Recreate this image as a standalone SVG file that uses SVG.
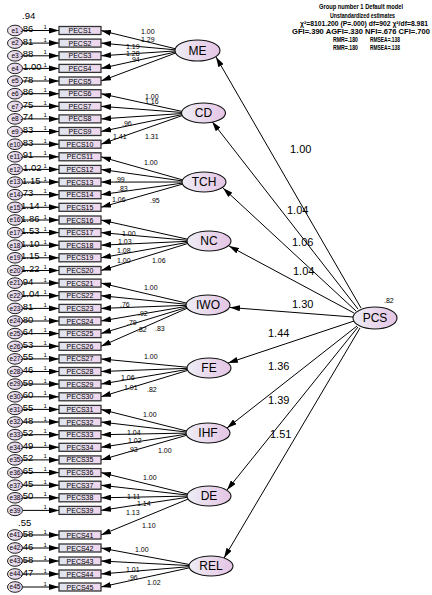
<svg xmlns="http://www.w3.org/2000/svg" width="432" height="595" viewBox="0 0 432 595">
<defs>
<linearGradient id="gBox" x1="0" x2="1" y1="0" y2="0"><stop offset="0" stop-color="#dfe5ee"/><stop offset="1" stop-color="#efd6ee"/></linearGradient>
<linearGradient id="gLat" x1="0" x2="1" y1="0" y2="0"><stop offset="0" stop-color="#eeedf5"/><stop offset="1" stop-color="#e4c4e4"/></linearGradient>
<linearGradient id="gErr" x1="0" x2="1" y1="0" y2="0"><stop offset="0" stop-color="#ebe6f2"/><stop offset="1" stop-color="#e2cce6"/></linearGradient>
<marker id="ah" markerWidth="10" markerHeight="6" refX="10" refY="3" orient="auto" markerUnits="userSpaceOnUse"><path d="M0,0 L10,3 L0,6 z" fill="#000"/></marker>
<style>
text{font-family:"Liberation Sans",Arial,sans-serif;fill:#000}
.box{fill:url(#gBox);stroke:#333;stroke-width:1.3}
.bt{font-size:7px;text-anchor:middle}
.err{fill:url(#gErr);stroke:#222;stroke-width:1}
.et{font-size:6.5px;text-anchor:middle}
.lat{fill:url(#gLat);stroke:#111;stroke-width:1.1}
.lt{font-size:12px;text-anchor:middle}
.c line{stroke:#000;stroke-width:1;marker-end:url(#ah)}
.v{font-size:9.5px}
.one{font-size:6px}
.ld{font-size:7px}
.pl{font-size:11px}
.hd{font-size:6.5px;font-weight:bold}
</style>
</defs>
<rect width="432" height="595" fill="#fff"/>

<g id="connectors" class="c">
<!-- error -> indicator -->
<line x1="22.5" y1="30.5" x2="59" y2="30.5"/>
<line x1="22.5" y1="43.1" x2="59" y2="43.1"/>
<line x1="22.5" y1="55.8" x2="59" y2="55.8"/>
<line x1="22.5" y1="68.4" x2="59" y2="68.4"/>
<line x1="22.5" y1="81" x2="59" y2="81"/>
<line x1="22.5" y1="93.7" x2="59" y2="93.7"/>
<line x1="22.5" y1="106.3" x2="59" y2="106.3"/>
<line x1="22.5" y1="118.9" x2="59" y2="118.9"/>
<line x1="22.5" y1="131.5" x2="59" y2="131.5"/>
<line x1="22.5" y1="144.2" x2="59" y2="144.2"/>
<line x1="22.5" y1="156.8" x2="59" y2="156.8"/>
<line x1="22.5" y1="169.4" x2="59" y2="169.4"/>
<line x1="22.5" y1="182.1" x2="59" y2="182.1"/>
<line x1="22.5" y1="194.7" x2="59" y2="194.7"/>
<line x1="22.5" y1="207.3" x2="59" y2="207.3"/>
<line x1="22.5" y1="220" x2="59" y2="220"/>
<line x1="22.5" y1="232.6" x2="59" y2="232.6"/>
<line x1="22.5" y1="245.2" x2="59" y2="245.2"/>
<line x1="22.5" y1="257.8" x2="59" y2="257.8"/>
<line x1="22.5" y1="270.5" x2="59" y2="270.5"/>
<line x1="22.5" y1="283.1" x2="59" y2="283.1"/>
<line x1="22.5" y1="295.7" x2="59" y2="295.7"/>
<line x1="22.5" y1="308.4" x2="59" y2="308.4"/>
<line x1="22.5" y1="321" x2="59" y2="321"/>
<line x1="22.5" y1="333.6" x2="59" y2="333.6"/>
<line x1="22.5" y1="346.3" x2="59" y2="346.3"/>
<line x1="22.5" y1="358.9" x2="59" y2="358.9"/>
<line x1="22.5" y1="371.5" x2="59" y2="371.5"/>
<line x1="22.5" y1="384.1" x2="59" y2="384.1"/>
<line x1="22.5" y1="396.8" x2="59" y2="396.8"/>
<line x1="22.5" y1="409.4" x2="59" y2="409.4"/>
<line x1="22.5" y1="422" x2="59" y2="422"/>
<line x1="22.5" y1="434.7" x2="59" y2="434.7"/>
<line x1="22.5" y1="447.3" x2="59" y2="447.3"/>
<line x1="22.5" y1="459.9" x2="59" y2="459.9"/>
<line x1="22.5" y1="472.6" x2="59" y2="472.6"/>
<line x1="22.5" y1="485.2" x2="59" y2="485.2"/>
<line x1="22.5" y1="497.8" x2="59" y2="497.8"/>
<line x1="22.5" y1="510.4" x2="59" y2="510.4"/>
<line x1="22.5" y1="535" x2="59" y2="535"/>
<line x1="22.5" y1="548" x2="59" y2="548"/>
<line x1="22.5" y1="561" x2="59" y2="561"/>
<line x1="22.5" y1="574" x2="59" y2="574"/>
<line x1="22.5" y1="587" x2="59" y2="587"/>
<!-- latent -> indicator -->
<line x1="176" y1="48.9" x2="101" y2="30.5"/>
<line x1="176" y1="49.9" x2="101" y2="43.1"/>
<line x1="176" y1="50.9" x2="101" y2="55.8"/>
<line x1="176" y1="51.9" x2="101" y2="68.4"/>
<line x1="176" y1="52.9" x2="101" y2="81"/>
<line x1="182.5" y1="111.5" x2="101" y2="93.7"/>
<line x1="182.5" y1="112.5" x2="101" y2="106.3"/>
<line x1="182.5" y1="113.5" x2="101" y2="118.9"/>
<line x1="182.5" y1="114.5" x2="101" y2="131.5"/>
<line x1="182.5" y1="115.5" x2="101" y2="144.2"/>
<line x1="183" y1="180" x2="101" y2="156.8"/>
<line x1="183" y1="181" x2="101" y2="169.4"/>
<line x1="183" y1="182" x2="101" y2="182.1"/>
<line x1="183" y1="183" x2="101" y2="194.7"/>
<line x1="183" y1="184" x2="101" y2="207.3"/>
<line x1="188" y1="239.3" x2="101" y2="220"/>
<line x1="188" y1="240.3" x2="101" y2="232.6"/>
<line x1="188" y1="241.3" x2="101" y2="245.2"/>
<line x1="188" y1="242.3" x2="101" y2="257.8"/>
<line x1="188" y1="243.4" x2="101" y2="270.5"/>
<line x1="187" y1="303.2" x2="101" y2="283.1"/>
<line x1="187" y1="304.3" x2="101" y2="295.7"/>
<line x1="187" y1="305.3" x2="101" y2="308.4"/>
<line x1="187" y1="306.3" x2="101" y2="321"/>
<line x1="187" y1="307.3" x2="101" y2="333.6"/>
<line x1="187" y1="308.3" x2="101" y2="346.3"/>
<line x1="188" y1="367.3" x2="101" y2="358.9"/>
<line x1="188" y1="368.3" x2="101" y2="371.5"/>
<line x1="188" y1="369.3" x2="101" y2="384.1"/>
<line x1="188" y1="370.3" x2="101" y2="396.8"/>
<line x1="187" y1="431.1" x2="101" y2="409.4"/>
<line x1="187" y1="432.1" x2="101" y2="422"/>
<line x1="187" y1="433.1" x2="101" y2="434.7"/>
<line x1="187" y1="434.1" x2="101" y2="447.3"/>
<line x1="187" y1="435.2" x2="101" y2="459.9"/>
<line x1="188" y1="494.1" x2="101" y2="472.6"/>
<line x1="188" y1="495.1" x2="101" y2="485.2"/>
<line x1="188" y1="496.1" x2="101" y2="497.8"/>
<line x1="188" y1="497.2" x2="101" y2="510.4"/>
<line x1="188" y1="499.1" x2="101" y2="535"/>
<line x1="190" y1="564.6" x2="101" y2="548"/>
<line x1="190" y1="565.6" x2="101" y2="561"/>
<line x1="190" y1="566.6" x2="101" y2="574"/>
<line x1="190" y1="567.7" x2="101" y2="587"/>
<!-- PCS -> latent -->
<line x1="361" y1="308" x2="216" y2="57"/>
<line x1="358" y1="309" x2="212" y2="121.5"/>
<line x1="356" y1="311" x2="223" y2="188"/>
<line x1="354" y1="313" x2="229" y2="246"/>
<line x1="353" y1="317" x2="230" y2="307.5"/>
<line x1="354" y1="321" x2="228" y2="363"/>
<line x1="357" y1="326" x2="227" y2="428"/>
<line x1="358" y1="327" x2="227" y2="490"/>
<line x1="360" y1="328" x2="224" y2="558"/>
</g>

<g id="indicators">
<g id="PECS1"><rect class="box" x="59" y="26.5" width="42" height="8"/><text class="bt" x="80" y="33">PECS1</text></g>
<g id="PECS2"><rect class="box" x="59" y="39.1" width="42" height="8"/><text class="bt" x="80" y="45.6">PECS2</text></g>
<g id="PECS3"><rect class="box" x="59" y="51.8" width="42" height="8"/><text class="bt" x="80" y="58.3">PECS3</text></g>
<g id="PECS4"><rect class="box" x="59" y="64.4" width="42" height="8"/><text class="bt" x="80" y="70.9">PECS4</text></g>
<g id="PECS5"><rect class="box" x="59" y="77" width="42" height="8"/><text class="bt" x="80" y="83.5">PECS5</text></g>
<g id="PECS6"><rect class="box" x="59" y="89.7" width="42" height="8"/><text class="bt" x="80" y="96.2">PECS6</text></g>
<g id="PECS7"><rect class="box" x="59" y="102.3" width="42" height="8"/><text class="bt" x="80" y="108.8">PECS7</text></g>
<g id="PECS8"><rect class="box" x="59" y="114.9" width="42" height="8"/><text class="bt" x="80" y="121.4">PECS8</text></g>
<g id="PECS9"><rect class="box" x="59" y="127.5" width="42" height="8"/><text class="bt" x="80" y="134">PECS9</text></g>
<g id="PECS10"><rect class="box" x="59" y="140.2" width="42" height="8"/><text class="bt" x="80" y="146.7">PECS10</text></g>
<g id="PECS11"><rect class="box" x="59" y="152.8" width="42" height="8"/><text class="bt" x="80" y="159.3">PECS11</text></g>
<g id="PECS12"><rect class="box" x="59" y="165.4" width="42" height="8"/><text class="bt" x="80" y="171.9">PECS12</text></g>
<g id="PECS13"><rect class="box" x="59" y="178.1" width="42" height="8"/><text class="bt" x="80" y="184.6">PECS13</text></g>
<g id="PECS14"><rect class="box" x="59" y="190.7" width="42" height="8"/><text class="bt" x="80" y="197.2">PECS14</text></g>
<g id="PECS15"><rect class="box" x="59" y="203.3" width="42" height="8"/><text class="bt" x="80" y="209.8">PECS15</text></g>
<g id="PECS16"><rect class="box" x="59" y="216" width="42" height="8"/><text class="bt" x="80" y="222.5">PECS16</text></g>
<g id="PECS17"><rect class="box" x="59" y="228.6" width="42" height="8"/><text class="bt" x="80" y="235.1">PECS17</text></g>
<g id="PECS18"><rect class="box" x="59" y="241.2" width="42" height="8"/><text class="bt" x="80" y="247.7">PECS18</text></g>
<g id="PECS19"><rect class="box" x="59" y="253.8" width="42" height="8"/><text class="bt" x="80" y="260.3">PECS19</text></g>
<g id="PECS20"><rect class="box" x="59" y="266.5" width="42" height="8"/><text class="bt" x="80" y="273">PECS20</text></g>
<g id="PECS21"><rect class="box" x="59" y="279.1" width="42" height="8"/><text class="bt" x="80" y="285.6">PECS21</text></g>
<g id="PECS22"><rect class="box" x="59" y="291.7" width="42" height="8"/><text class="bt" x="80" y="298.2">PECS22</text></g>
<g id="PECS23"><rect class="box" x="59" y="304.4" width="42" height="8"/><text class="bt" x="80" y="310.9">PECS23</text></g>
<g id="PECS24"><rect class="box" x="59" y="317" width="42" height="8"/><text class="bt" x="80" y="323.5">PECS24</text></g>
<g id="PECS25"><rect class="box" x="59" y="329.6" width="42" height="8"/><text class="bt" x="80" y="336.1">PECS25</text></g>
<g id="PECS26"><rect class="box" x="59" y="342.3" width="42" height="8"/><text class="bt" x="80" y="348.8">PECS26</text></g>
<g id="PECS27"><rect class="box" x="59" y="354.9" width="42" height="8"/><text class="bt" x="80" y="361.4">PECS27</text></g>
<g id="PECS28"><rect class="box" x="59" y="367.5" width="42" height="8"/><text class="bt" x="80" y="374">PECS28</text></g>
<g id="PECS29"><rect class="box" x="59" y="380.1" width="42" height="8"/><text class="bt" x="80" y="386.6">PECS29</text></g>
<g id="PECS30"><rect class="box" x="59" y="392.8" width="42" height="8"/><text class="bt" x="80" y="399.3">PECS30</text></g>
<g id="PECS31"><rect class="box" x="59" y="405.4" width="42" height="8"/><text class="bt" x="80" y="411.9">PECS31</text></g>
<g id="PECS32"><rect class="box" x="59" y="418" width="42" height="8"/><text class="bt" x="80" y="424.5">PECS32</text></g>
<g id="PECS33"><rect class="box" x="59" y="430.7" width="42" height="8"/><text class="bt" x="80" y="437.2">PECS33</text></g>
<g id="PECS34"><rect class="box" x="59" y="443.3" width="42" height="8"/><text class="bt" x="80" y="449.8">PECS34</text></g>
<g id="PECS35"><rect class="box" x="59" y="455.9" width="42" height="8"/><text class="bt" x="80" y="462.4">PECS35</text></g>
<g id="PECS36"><rect class="box" x="59" y="468.6" width="42" height="8"/><text class="bt" x="80" y="475.1">PECS36</text></g>
<g id="PECS37"><rect class="box" x="59" y="481.2" width="42" height="8"/><text class="bt" x="80" y="487.7">PECS37</text></g>
<g id="PECS38"><rect class="box" x="59" y="493.8" width="42" height="8"/><text class="bt" x="80" y="500.3">PECS38</text></g>
<g id="PECS39"><rect class="box" x="59" y="506.4" width="42" height="8"/><text class="bt" x="80" y="512.9">PECS39</text></g>
<g id="PECS41"><rect class="box" x="59" y="531" width="42" height="8"/><text class="bt" x="80" y="537.5">PECS41</text></g>
<g id="PECS42"><rect class="box" x="59" y="544" width="42" height="8"/><text class="bt" x="80" y="550.5">PECS42</text></g>
<g id="PECS43"><rect class="box" x="59" y="557" width="42" height="8"/><text class="bt" x="80" y="563.5">PECS43</text></g>
<g id="PECS44"><rect class="box" x="59" y="570" width="42" height="8"/><text class="bt" x="80" y="576.5">PECS44</text></g>
<g id="PECS45"><rect class="box" x="59" y="583" width="42" height="8"/><text class="bt" x="80" y="589.5">PECS45</text></g>
</g>

<g id="errors">
<g id="e1"><ellipse class="err" cx="15" cy="30.5" rx="7.5" ry="5.3"/><text class="et" x="15" y="32.8">e1</text></g>
<g id="e2"><ellipse class="err" cx="15" cy="43.1" rx="7.5" ry="5.3"/><text class="et" x="15" y="45.4">e2</text></g>
<g id="e3"><ellipse class="err" cx="15" cy="55.8" rx="7.5" ry="5.3"/><text class="et" x="15" y="58.1">e3</text></g>
<g id="e4"><ellipse class="err" cx="15" cy="68.4" rx="7.5" ry="5.3"/><text class="et" x="15" y="70.7">e4</text></g>
<g id="e5"><ellipse class="err" cx="15" cy="81" rx="7.5" ry="5.3"/><text class="et" x="15" y="83.3">e5</text></g>
<g id="e6"><ellipse class="err" cx="15" cy="93.7" rx="7.5" ry="5.3"/><text class="et" x="15" y="96">e6</text></g>
<g id="e7"><ellipse class="err" cx="15" cy="106.3" rx="7.5" ry="5.3"/><text class="et" x="15" y="108.6">e7</text></g>
<g id="e8"><ellipse class="err" cx="15" cy="118.9" rx="7.5" ry="5.3"/><text class="et" x="15" y="121.2">e8</text></g>
<g id="e9"><ellipse class="err" cx="15" cy="131.5" rx="7.5" ry="5.3"/><text class="et" x="15" y="133.8">e9</text></g>
<g id="e10"><ellipse class="err" cx="15" cy="144.2" rx="7.5" ry="5.3"/><text class="et" x="15" y="146.5">e10</text></g>
<g id="e11"><ellipse class="err" cx="15" cy="156.8" rx="7.5" ry="5.3"/><text class="et" x="15" y="159.1">e11</text></g>
<g id="e12"><ellipse class="err" cx="15" cy="169.4" rx="7.5" ry="5.3"/><text class="et" x="15" y="171.7">e12</text></g>
<g id="e13"><ellipse class="err" cx="15" cy="182.1" rx="7.5" ry="5.3"/><text class="et" x="15" y="184.4">e13</text></g>
<g id="e14"><ellipse class="err" cx="15" cy="194.7" rx="7.5" ry="5.3"/><text class="et" x="15" y="197">e14</text></g>
<g id="e15"><ellipse class="err" cx="15" cy="207.3" rx="7.5" ry="5.3"/><text class="et" x="15" y="209.6">e15</text></g>
<g id="e16"><ellipse class="err" cx="15" cy="220" rx="7.5" ry="5.3"/><text class="et" x="15" y="222.3">e16</text></g>
<g id="e17"><ellipse class="err" cx="15" cy="232.6" rx="7.5" ry="5.3"/><text class="et" x="15" y="234.9">e17</text></g>
<g id="e18"><ellipse class="err" cx="15" cy="245.2" rx="7.5" ry="5.3"/><text class="et" x="15" y="247.5">e18</text></g>
<g id="e19"><ellipse class="err" cx="15" cy="257.8" rx="7.5" ry="5.3"/><text class="et" x="15" y="260.1">e19</text></g>
<g id="e20"><ellipse class="err" cx="15" cy="270.5" rx="7.5" ry="5.3"/><text class="et" x="15" y="272.8">e20</text></g>
<g id="e21"><ellipse class="err" cx="15" cy="283.1" rx="7.5" ry="5.3"/><text class="et" x="15" y="285.4">e21</text></g>
<g id="e22"><ellipse class="err" cx="15" cy="295.7" rx="7.5" ry="5.3"/><text class="et" x="15" y="298">e22</text></g>
<g id="e23"><ellipse class="err" cx="15" cy="308.4" rx="7.5" ry="5.3"/><text class="et" x="15" y="310.7">e23</text></g>
<g id="e24"><ellipse class="err" cx="15" cy="321" rx="7.5" ry="5.3"/><text class="et" x="15" y="323.3">e24</text></g>
<g id="e25"><ellipse class="err" cx="15" cy="333.6" rx="7.5" ry="5.3"/><text class="et" x="15" y="335.9">e25</text></g>
<g id="e26"><ellipse class="err" cx="15" cy="346.3" rx="7.5" ry="5.3"/><text class="et" x="15" y="348.6">e26</text></g>
<g id="e27"><ellipse class="err" cx="15" cy="358.9" rx="7.5" ry="5.3"/><text class="et" x="15" y="361.2">e27</text></g>
<g id="e28"><ellipse class="err" cx="15" cy="371.5" rx="7.5" ry="5.3"/><text class="et" x="15" y="373.8">e28</text></g>
<g id="e29"><ellipse class="err" cx="15" cy="384.1" rx="7.5" ry="5.3"/><text class="et" x="15" y="386.4">e29</text></g>
<g id="e30"><ellipse class="err" cx="15" cy="396.8" rx="7.5" ry="5.3"/><text class="et" x="15" y="399.1">e30</text></g>
<g id="e31"><ellipse class="err" cx="15" cy="409.4" rx="7.5" ry="5.3"/><text class="et" x="15" y="411.7">e31</text></g>
<g id="e32"><ellipse class="err" cx="15" cy="422" rx="7.5" ry="5.3"/><text class="et" x="15" y="424.3">e32</text></g>
<g id="e33"><ellipse class="err" cx="15" cy="434.7" rx="7.5" ry="5.3"/><text class="et" x="15" y="437">e33</text></g>
<g id="e34"><ellipse class="err" cx="15" cy="447.3" rx="7.5" ry="5.3"/><text class="et" x="15" y="449.6">e34</text></g>
<g id="e35"><ellipse class="err" cx="15" cy="459.9" rx="7.5" ry="5.3"/><text class="et" x="15" y="462.2">e35</text></g>
<g id="e36"><ellipse class="err" cx="15" cy="472.6" rx="7.5" ry="5.3"/><text class="et" x="15" y="474.9">e36</text></g>
<g id="e37"><ellipse class="err" cx="15" cy="485.2" rx="7.5" ry="5.3"/><text class="et" x="15" y="487.5">e37</text></g>
<g id="e38"><ellipse class="err" cx="15" cy="497.8" rx="7.5" ry="5.3"/><text class="et" x="15" y="500.1">e38</text></g>
<g id="e39"><ellipse class="err" cx="15" cy="510.4" rx="7.5" ry="5.3"/><text class="et" x="15" y="512.7">e39</text></g>
<g id="e41"><ellipse class="err" cx="15" cy="535" rx="7.5" ry="5.3"/><text class="et" x="15" y="537.3">e41</text></g>
<g id="e42"><ellipse class="err" cx="15" cy="548" rx="7.5" ry="5.3"/><text class="et" x="15" y="550.3">e42</text></g>
<g id="e43"><ellipse class="err" cx="15" cy="561" rx="7.5" ry="5.3"/><text class="et" x="15" y="563.3">e43</text></g>
<g id="e44"><ellipse class="err" cx="15" cy="574" rx="7.5" ry="5.3"/><text class="et" x="15" y="576.3">e44</text></g>
<g id="e45"><ellipse class="err" cx="15" cy="587" rx="7.5" ry="5.3"/><text class="et" x="15" y="589.3">e45</text></g>
</g>

<g id="latents">
<g id="ME"><ellipse class="lat" cx="197.5" cy="50.5" rx="22.5" ry="10.5"/><text class="lt" x="197.5" y="54.8">ME</text></g>
<g id="CD"><ellipse class="lat" cx="203.5" cy="113" rx="22" ry="10"/><text class="lt" x="203.5" y="117.3">CD</text></g>
<g id="TCH"><ellipse class="lat" cx="204" cy="182" rx="22" ry="10"/><text class="lt" x="204" y="186.3">TCH</text></g>
<g id="NC"><ellipse class="lat" cx="209" cy="241" rx="22" ry="10"/><text class="lt" x="209" y="245.3">NC</text></g>
<g id="IWO"><ellipse class="lat" cx="208" cy="305" rx="22" ry="10"/><text class="lt" x="208" y="309.3">IWO</text></g>
<g id="FE"><ellipse class="lat" cx="209" cy="368" rx="22" ry="10"/><text class="lt" x="209" y="372.3">FE</text></g>
<g id="IHF"><ellipse class="lat" cx="208" cy="433" rx="22" ry="10"/><text class="lt" x="208" y="437.3">IHF</text></g>
<g id="DE"><ellipse class="lat" cx="209" cy="496" rx="22" ry="10"/><text class="lt" x="209" y="500.3">DE</text></g>
<g id="REL"><ellipse class="lat" cx="211" cy="566" rx="22" ry="10"/><text class="lt" x="211" y="570.3">REL</text></g>
<g id="PCS"><ellipse class="lat" cx="375" cy="318" rx="22" ry="11"/><text class="lt" x="375" y="322.3">PCS</text><text class="ld" x="384" y="303">.82</text></g>
</g>

<g id="variances">
<text class="v" x="22" y="19">.94</text>
<text class="v" x="18" y="526">.55</text>
<text class="v" x="20" y="32">.86</text>
<text class="v" x="20" y="44.6">.81</text>
<text class="v" x="20" y="57.3">.88</text>
<text class="v" x="23" y="69.9">1.00</text>
<text class="v" x="20" y="82.5">.78</text>
<text class="v" x="20" y="95.2">.86</text>
<text class="v" x="20" y="107.8">.75</text>
<text class="v" x="20" y="120.4">.74</text>
<text class="v" x="20" y="133">.83</text>
<text class="v" x="20" y="145.7">.83</text>
<text class="v" x="20" y="158.3">.91</text>
<text class="v" x="23" y="170.9">1.02</text>
<text class="v" x="22" y="183.6">1.15</text>
<text class="v" x="20" y="196.2">.73</text>
<text class="v" x="21" y="208.8">1.14</text>
<text class="v" x="21" y="221.5">1.86</text>
<text class="v" x="21" y="234.1">1.53</text>
<text class="v" x="21" y="246.7">1.10</text>
<text class="v" x="21" y="259.3">1.15</text>
<text class="v" x="21" y="272">1.22</text>
<text class="v" x="20" y="284.6">.94</text>
<text class="v" x="21" y="297.2">1.04</text>
<text class="v" x="20" y="309.9">.81</text>
<text class="v" x="20" y="322.5">.80</text>
<text class="v" x="20" y="335.1">.64</text>
<text class="v" x="20" y="347.8">.53</text>
<text class="v" x="20" y="360.4">.55</text>
<text class="v" x="20" y="373">.46</text>
<text class="v" x="20" y="385.6">.59</text>
<text class="v" x="20" y="398.3">.60</text>
<text class="v" x="20" y="410.9">.55</text>
<text class="v" x="20" y="423.5">.48</text>
<text class="v" x="20" y="436.2">.52</text>
<text class="v" x="20" y="448.8">.49</text>
<text class="v" x="20" y="461.4">.52</text>
<text class="v" x="20" y="474.1">.65</text>
<text class="v" x="20" y="486.7">.45</text>
<text class="v" x="20" y="499.3">.50</text>
<text class="v" x="20" y="536.5">.58</text>
<text class="v" x="20" y="549.5">.46</text>
<text class="v" x="20" y="562.5">.58</text>
<text class="v" x="20" y="575.5">.47</text>
</g>

<g id="fixed-ones">
<text class="one" x="43.5" y="29">1</text>
<text class="one" x="43.5" y="41.6">1</text>
<text class="one" x="43.5" y="54.3">1</text>
<text class="one" x="43.5" y="66.9">1</text>
<text class="one" x="43.5" y="79.5">1</text>
<text class="one" x="43.5" y="92.2">1</text>
<text class="one" x="43.5" y="104.8">1</text>
<text class="one" x="43.5" y="117.4">1</text>
<text class="one" x="43.5" y="130">1</text>
<text class="one" x="43.5" y="142.7">1</text>
<text class="one" x="43.5" y="155.3">1</text>
<text class="one" x="43.5" y="167.9">1</text>
<text class="one" x="43.5" y="180.6">1</text>
<text class="one" x="43.5" y="193.2">1</text>
<text class="one" x="43.5" y="205.8">1</text>
<text class="one" x="43.5" y="218.5">1</text>
<text class="one" x="43.5" y="231.1">1</text>
<text class="one" x="43.5" y="243.7">1</text>
<text class="one" x="43.5" y="256.3">1</text>
<text class="one" x="43.5" y="269">1</text>
<text class="one" x="43.5" y="281.6">1</text>
<text class="one" x="43.5" y="294.2">1</text>
<text class="one" x="43.5" y="306.9">1</text>
<text class="one" x="43.5" y="319.5">1</text>
<text class="one" x="43.5" y="332.1">1</text>
<text class="one" x="43.5" y="344.8">1</text>
<text class="one" x="43.5" y="357.4">1</text>
<text class="one" x="43.5" y="370">1</text>
<text class="one" x="43.5" y="382.6">1</text>
<text class="one" x="43.5" y="395.3">1</text>
<text class="one" x="43.5" y="407.9">1</text>
<text class="one" x="43.5" y="420.5">1</text>
<text class="one" x="43.5" y="433.2">1</text>
<text class="one" x="43.5" y="445.8">1</text>
<text class="one" x="43.5" y="458.4">1</text>
<text class="one" x="43.5" y="471.1">1</text>
<text class="one" x="43.5" y="483.7">1</text>
<text class="one" x="43.5" y="496.3">1</text>
<text class="one" x="43.5" y="508.9">1</text>
<text class="one" x="43.5" y="533.5">1</text>
<text class="one" x="43.5" y="546.5">1</text>
<text class="one" x="43.5" y="559.5">1</text>
<text class="one" x="43.5" y="572.5">1</text>
<text class="one" x="43.5" y="585.5">1</text>
</g>

<g id="loadings">
<text class="ld" x="141" y="34">1.00</text>
<text class="ld" x="141" y="41.5">1.29</text>
<text class="ld" x="126" y="49">1.19</text>
<text class="ld" x="126" y="55.5">1.28</text>
<text class="ld" x="130" y="61.5">.94</text>
<text class="ld" x="145" y="98.5">1.00</text>
<text class="ld" x="145" y="104">1.16</text>
<text class="ld" x="122" y="125.5">.96</text>
<text class="ld" x="113" y="138.5">1.41</text>
<text class="ld" x="145" y="138.5">1.31</text>
<text class="ld" x="144" y="164.5">1.00</text>
<text class="ld" x="115" y="181.5">.99</text>
<text class="ld" x="118" y="190.8">.83</text>
<text class="ld" x="112" y="201.8">1.06</text>
<text class="ld" x="150" y="202.5">.95</text>
<text class="ld" x="122" y="236">1.00</text>
<text class="ld" x="118" y="244">1.03</text>
<text class="ld" x="117" y="253.3">1.08</text>
<text class="ld" x="117" y="263">1.00</text>
<text class="ld" x="152" y="263">1.06</text>
<text class="ld" x="144" y="290">1.00</text>
<text class="ld" x="120" y="306.5">.76</text>
<text class="ld" x="138" y="316">.92</text>
<text class="ld" x="127" y="325">.79</text>
<text class="ld" x="137" y="331.5">.82</text>
<text class="ld" x="155" y="331">.83</text>
<text class="ld" x="144" y="359">1.00</text>
<text class="ld" x="121" y="380">1.06</text>
<text class="ld" x="124" y="390">1.01</text>
<text class="ld" x="147" y="392">.82</text>
<text class="ld" x="143" y="416.5">1.00</text>
<text class="ld" x="127" y="435">1.04</text>
<text class="ld" x="128" y="443">1.02</text>
<text class="ld" x="128" y="451.5">.93</text>
<text class="ld" x="158" y="452.5">1.00</text>
<text class="ld" x="143" y="480">1.00</text>
<text class="ld" x="127" y="498.5">1.11</text>
<text class="ld" x="137" y="505.5">1.14</text>
<text class="ld" x="126" y="515">1.13</text>
<text class="ld" x="142" y="528">1.10</text>
<text class="ld" x="135" y="552">1.00</text>
<text class="ld" x="126" y="572">1.01</text>
<text class="ld" x="128" y="580">.96</text>
<text class="ld" x="147" y="585">1.02</text>
</g>

<g id="paths">
<text class="pl" x="290" y="153">1.00</text>
<text class="pl" x="287" y="214">1.04</text>
<text class="pl" x="292" y="246">1.06</text>
<text class="pl" x="293" y="275">1.04</text>
<text class="pl" x="292" y="308">1.30</text>
<text class="pl" x="268" y="337">1.44</text>
<text class="pl" x="268" y="370">1.36</text>
<text class="pl" x="268" y="404">1.39</text>
<text class="pl" x="270" y="438">1.51</text>
</g>

<g id="header">
<text class="hd" x="319" y="8.5" textLength="84" lengthAdjust="spacingAndGlyphs">Group number 1 Default model</text>
<text class="hd" x="330" y="17.5" textLength="65" lengthAdjust="spacingAndGlyphs">Unstandardized estimates</text>
<text class="hd" x="300" y="26" textLength="128" lengthAdjust="spacingAndGlyphs">χ²=8101.200  (P=.000) df=902 χ²/df=8.981</text>
<text class="hd" x="292" y="33.5" textLength="138" lengthAdjust="spacingAndGlyphs">GFI=.390   AGFI=.330   NFI=.676  CFI=.700</text>
<text class="hd" x="333" y="42" textLength="25" lengthAdjust="spacingAndGlyphs">RMR=.180</text>
<text class="hd" x="370" y="42" textLength="30" lengthAdjust="spacingAndGlyphs">RMSEA=.138</text>
<text class="hd" x="333" y="49.5" textLength="25" lengthAdjust="spacingAndGlyphs">RMR=.180</text>
<text class="hd" x="370" y="49.5" textLength="30" lengthAdjust="spacingAndGlyphs">RMSEA=.138</text>
</g>
</svg>
